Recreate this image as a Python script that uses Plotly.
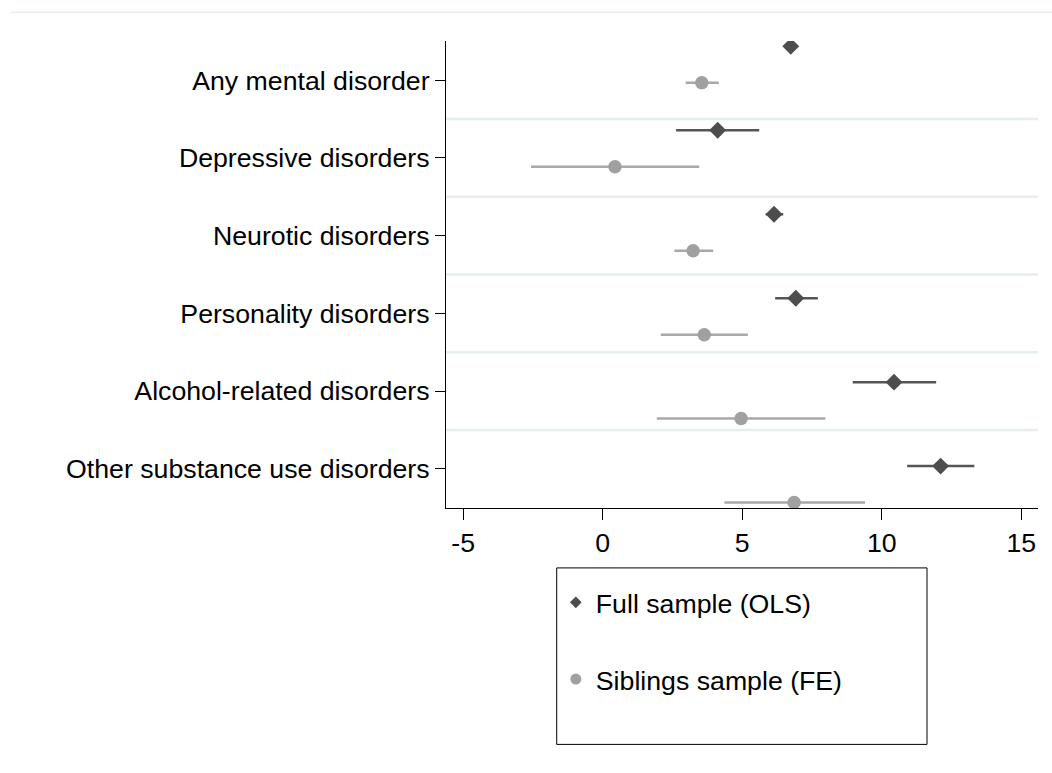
import numpy as np
import plotly.graph_objects as go

# ---------------- data ----------------
categories = ["Any mental disorder", "Depressive disorders", "Neurotic disorders",
              "Personality disorders", "Alcohol-related disorders",
              "Other substance use disorders"]
series_names = ["Full sample (OLS)", "Siblings sample (FE)"]

ols_est = [6.74, 4.12, 6.14, 6.92, 10.44, 12.11]
ols_lo = [6.52, 2.63, 5.84, 6.18, 8.96, 10.91]
ols_hi = [6.96, 5.61, 6.47, 7.71, 11.95, 13.32]

fe_est = [3.55, 0.44, 3.24, 3.64, 4.96, 6.86]
fe_lo = [2.97, -2.57, 2.57, 2.08, 1.94, 4.36]
fe_hi = [4.16, 3.46, 3.96, 5.20, 7.98, 9.40]

x_ticks = [-5, 0, 5, 10, 15]

# ---------------- layout helpers ----------------
n = len(categories)
group = np.arange(n)
offset = 0.217
y_ols = group - offset
y_fe = group + offset
label_step = 0.9257
label_pos = 0.186 + label_step * group
grid_pos = label_pos[:-1] + label_step / 2

DARK = "#4d4d4d"
DARK_LINE = "#555555"
LIGHT = "#a0a0a0"
LIGHT_LINE = "#a8a8a8"
GRID = "#e6eeef"
FONT = "Liberation Sans, Arial, Helvetica, sans-serif"
FS = 26.7

ols_est_a = np.array(ols_est)
fe_est_a = np.array(fe_est)

fig = go.Figure()

fig.add_trace(go.Scatter(
    x=ols_est, y=y_ols, mode="markers", showlegend=False,
    marker=dict(symbol="diamond", size=13, color=DARK),
    error_x=dict(type="data", symmetric=False,
                 array=np.array(ols_hi) - ols_est_a,
                 arrayminus=ols_est_a - np.array(ols_lo),
                 thickness=2.5, width=0, color=DARK_LINE),
))
fig.add_trace(go.Scatter(
    x=fe_est, y=y_fe, mode="markers", showlegend=False,
    marker=dict(symbol="circle", size=13.5, color=LIGHT),
    error_x=dict(type="data", symmetric=False,
                 array=np.array(fe_hi) - fe_est_a,
                 arrayminus=fe_est_a - np.array(fe_lo),
                 thickness=2.5, width=0, color=LIGHT_LINE),
))

# legend-only traces
fig.add_trace(go.Scatter(
    x=[None], y=[None], mode="markers", name=series_names[0],
    legendgroup="a", marker=dict(symbol="diamond", size=9, color=DARK)))
fig.add_trace(go.Scatter(
    x=[None], y=[None], mode="markers", name=series_names[1],
    legendgroup="b", marker=dict(symbol="circle", size=11, color=LIGHT)))

shapes = []
for gp in grid_pos:
    shapes.append(dict(type="line", xref="paper", yref="y", x0=0, x1=1,
                       y0=gp, y1=gp, layer="below",
                       line=dict(color=GRID, width=2.5)))
# faint outer border line at top
shapes.append(dict(type="line", xref="paper", yref="paper",
                   x0=-0.7365, x1=1.03, y0=1.0614, y1=1.0614,
                   line=dict(color=GRID, width=1.5)))
# legend box
shapes.append(dict(type="rect", xref="paper", yref="paper",
                   x0=0.187, x1=0.8125, y0=-0.1283, y1=-0.5062,
                   line=dict(color="black", width=1), fillcolor="rgba(0,0,0,0)"))

fig.update_layout(
    width=1052, height=773,
    margin=dict(l=446, r=14, t=41, b=265, autoexpand=False),
    paper_bgcolor="white", plot_bgcolor="white",
    font=dict(family=FONT, size=FS, color="black"),
    shapes=shapes,
    showlegend=True,
    legend=dict(x=0.1855, y=-0.151, xanchor="left", yanchor="top",
                traceorder="grouped", tracegroupgap=39,
                bgcolor="rgba(0,0,0,0)", borderwidth=0,
                font=dict(family=FONT, size=FS, color="black")),
    xaxis=dict(range=[-5.616, 15.6], tickmode="array", tickvals=x_ticks,
               ticktext=[str(t) for t in x_ticks],
               showline=True, linecolor="black", linewidth=1.2,
               ticks="outside", ticklen=11, tickwidth=1.2, tickcolor="black",
               showgrid=False, zeroline=False,
               tickfont=dict(family=FONT, size=FS, color="black")),
    yaxis=dict(range=[5.282, -0.281], tickmode="array", tickvals=label_pos,
               ticktext=categories,
               showline=True, linecolor="black", linewidth=1.2,
               ticks="outside", ticklen=10, tickwidth=1.2, tickcolor="black",
               showgrid=False, zeroline=False,
               tickfont=dict(family=FONT, size=FS, color="black")),
)

fig.write_html("out.html")
